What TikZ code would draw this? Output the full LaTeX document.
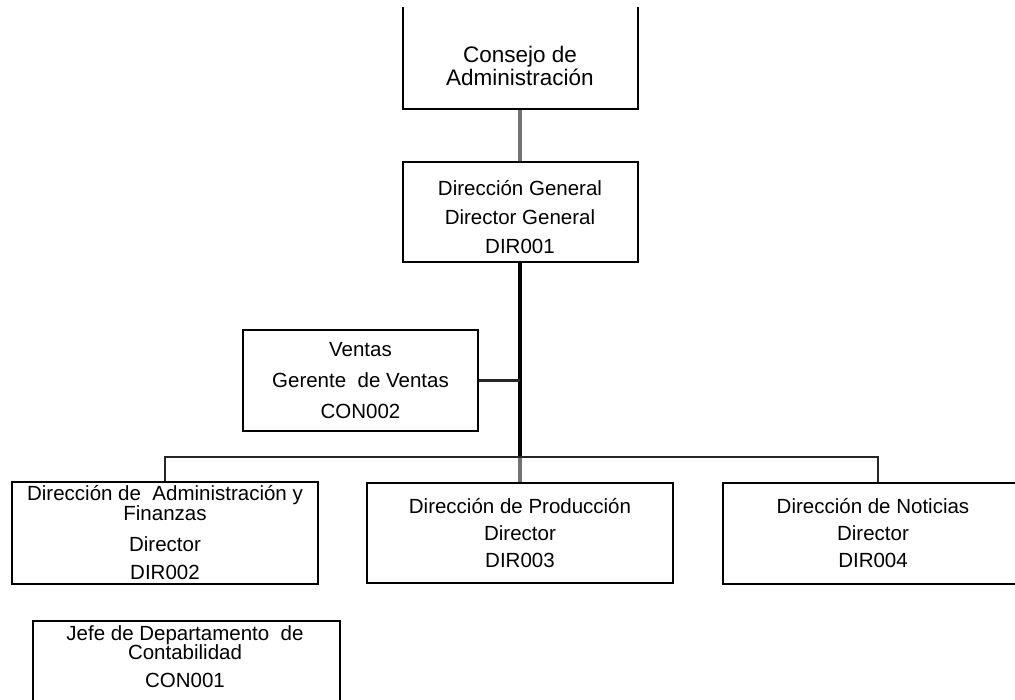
\documentclass[tikz,border=0pt]{standalone}
\usepackage{fontspec}
\setmainfont{Liberation Sans}

\begin{document}
\begin{tikzpicture}[x = 1pt, y = -1pt]
\tikzstyle{box}=[draw, line width = 2pt, inner sep = 0pt, align = center, font = \fontsize{20.5}{29}\selectfont]
\tikzstyle{boxtext}=[inner sep = 0pt, align = center, font = \fontsize{20.5}{28}\selectfont]
\tikzstyle{gline}=[line width = 3.3pt, color = black!55]
\tikzstyle{bline}=[line width = 4pt]
\tikzstyle{tline}=[line width = 2.4pt, color = black!85]
\useasboundingbox (0,0) rectangle (1015,700);
\clip (0,8) rectangle (1015,700);
% top of the chart
\node (CA) [box, minimum width = 235pt, minimum height = 200pt, anchor = south] at (520, 110) {};
\node (CAt) [boxtext, font = \fontsize{22.5}{20}\selectfont] at (520, 66) {Consejo de\\Administración};
\node (DG) [box, minimum width = 235pt, minimum height = 100pt] at (520, 212) {\rule{0pt}{26pt}Dirección General\\Director General\\DIR001};
\draw [gline] (CA) -- (DG);
\coordinate (J) at (520, 457);
\draw [bline] (DG.south) -- (J);
% staff box
\node (VE) [box, minimum width = 235pt, minimum height = 101pt, font = \fontsize{20.5}{31}\selectfont] at (360.5, 380.5) {Ventas\\Gerente~ de Ventas\\CON002};
\draw [tline] (VE.east) -- (VE.east -| J);
% directions
\node (DA) [box, minimum width = 306pt, minimum height = 102pt, font = \fontsize{20.5}{28}\selectfont] at (165, 533) {Dirección de~~Administración y\\[-8pt]Finanzas\\[3pt]Director\\DIR002};
\node (DP) [box, minimum width = 306pt, minimum height = 100pt, font = \fontsize{20.5}{27}\selectfont] at (520, 533) {Dirección de Producción\\Director\\DIR003};
\node (DN) [box, minimum width = 300pt, minimum height = 101pt, font = \fontsize{20.5}{27}\selectfont] at (873, 533) {Dirección de Noticias\\Director\\DIR004};
\draw [gline] (J) -- (DP);
\draw [tline] (DA.north) |- (J) -| ([xshift = 5pt]DN.north);
% bottom box
\node (JD) [box, minimum width = 307pt, minimum height = 120pt, anchor = north] at (186.5, 620) {};
\node (JDt) [boxtext] at (185, 657) {Jefe de Departamento~~de\\[-9pt]Contabilidad\\CON001};
\end{tikzpicture}
\end{document}
